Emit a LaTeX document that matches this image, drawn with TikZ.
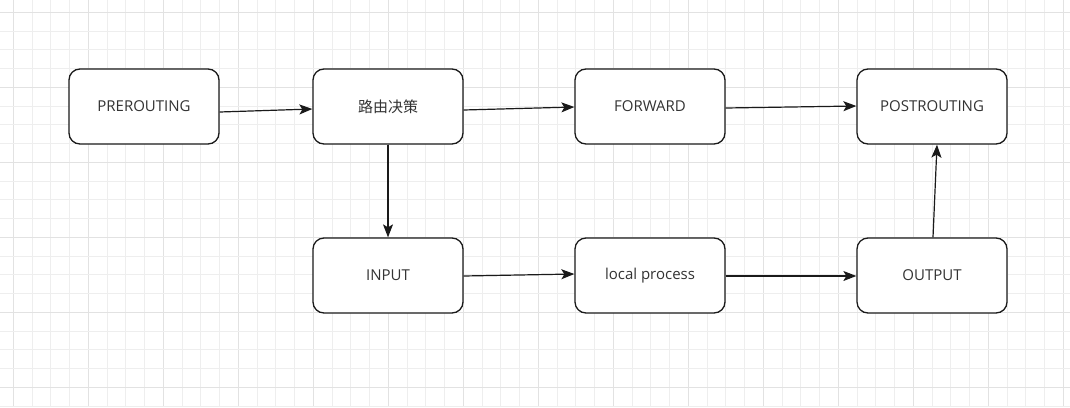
\documentclass[tikz,border=0pt]{standalone}
\usepackage{fontspec}
\setmainfont{Open Sans}
\newfontfamily\cjk{Noto Sans CJK SC}
\usetikzlibrary{arrows.meta}
\definecolor{gridminor}{HTML}{EEEEEE}
\definecolor{gridmajor}{HTML}{E2E2E2}
\definecolor{txt}{HTML}{333333}
\definecolor{ln}{HTML}{1A1A1A}
\tikzset{
  box/.style={draw=ln, line width=1.3pt, rounded corners=11pt, fill=white,
    minimum width=150pt, minimum height=75pt, inner sep=0pt,
    font=\fontsize{15}{17}\selectfont, text=txt},
  conn/.style={draw=ln, line width=1.2pt, -{Stealth[length=13pt,width=10pt,inset=3pt]}}
}
\begin{document}
\begin{tikzpicture}[x=1pt,y=-1pt]
\useasboundingbox (0,0) rectangle (1070,407);
\fill[white] (0,0) rectangle (1070,407);
% grid
\foreach \k in {0,...,56}{
  \pgfmathsetmacro\xx{13.3+18.75*\k}
  \pgfmathtruncatemacro\m{mod(\k,4)}
  \ifnum\m=0
    \draw[gridmajor, line width=1.1pt] (\xx,0) -- (\xx,407);
  \else
    \draw[gridminor, line width=1pt] (\xx,0) -- (\xx,407);
  \fi
}
\foreach \k in {0,...,21}{
  \pgfmathsetmacro\yy{12.3+18.75*\k}
  \pgfmathtruncatemacro\m{mod(\k,4)}
  \ifnum\m=0
    \draw[gridmajor, line width=1.1pt] (0,\yy) -- (1070,\yy);
  \else
    \draw[gridminor, line width=1pt] (0,\yy) -- (1070,\yy);
  \fi
}
% nodes
\node[box] (pre) at (144,106.5) {PREROUTING};
\node[box] (route) at (388,106.5) {\cjk 路由决策};
\node[box] (fwd) at (650,106.5) {FORWARD};
\node[box] (post) at (932,106.5) {POSTROUTING};
\node[box] (in) at (388,275.5) {INPUT};
\node[box] (local) at (650,275.5) {local process};
\node[box] (out) at (932,275.5) {OUTPUT};
% connectors
\draw[conn] ([yshift=-5.5pt]pre.east) -- ([yshift=-2.5pt]route.west);
\draw[conn] ([yshift=-3.5pt]route.east) -- ([yshift=-0.5pt]fwd.west);
\draw[conn] ([yshift=-1.5pt]fwd.east) -- ([yshift=0.5pt]post.west);
\draw[conn] (route.south) -- (in.north);
\draw[conn] ([yshift=-0.5pt]in.east) -- ([yshift=1.5pt]local.west);
\draw[conn] ([yshift=-0.5pt]local.east) -- ([yshift=-0.5pt]out.west);
\draw[conn] ([xshift=1pt]out.north) -- ([xshift=5pt]post.south);
\end{tikzpicture}
\end{document}
